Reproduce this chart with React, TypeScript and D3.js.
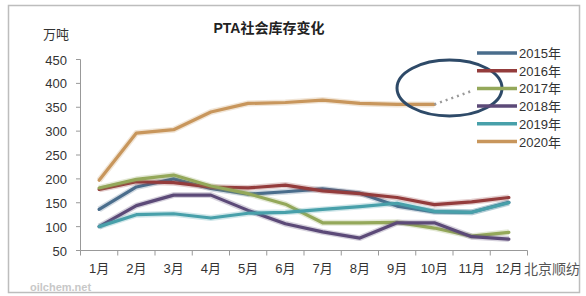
import React from "react";
import * as d3 from "d3";

const months = ["1月", "2月", "3月", "4月", "5月", "6月", "7月", "8月", "9月", "10月", "11月", "12月"];
const yTicks = [50, 100, 150, 200, 250, 300, 350, 400, 450];
const seriesNames = ["2015年", "2016年", "2017年", "2018年", "2019年", "2020年"];
const s2015 = [136, 183, 200, 180, 168, 173, 179, 170, 143, 131, 130, 151];
const s2016 = [178, 194, 192, 183, 181, 187, 175, 169, 161, 146, 152, 161];
const s2017 = [181, 199, 208, 185, 169, 147, 108, 108, 109, 97, 80, 88];
const s2018 = [100, 144, 166, 166, 134, 106, 89, 76, 108, 108, 79, 74];
const s2019 = [100, 125, 127, 118, 128, 130, 136, 142, 149, 132, 130, 150];
const s2020 = [197, 296, 303, 340, 358, 360, 365, 358, 356, 356];
const projection2020 = [356, 384];
const colors = ["#4a6d8c", "#943c3c", "#94a85a", "#5c4a78", "#48a0aa", "#c8965c"];
const allSeries = [s2015, s2016, s2017, s2018, s2019, s2020];

export default function App() {
  const W = 586, H = 296;
  const x = d3.scaleBand<string>().domain(months).range([80.5, 527.5]);
  const y = d3.scaleLinear().domain([50, 450]).range([250.5, 59.5]);
  const cx = (i: number) => (x(months[i]) as number) + x.bandwidth() / 2;
  const line = d3.line<number>().x((_, i) => cx(i)).y((d) => y(d));
  const projLine = d3.line<number>().x((_, i) => cx(i + 9)).y((d) => y(d));
  const font = "'Liberation Sans', 'Noto Sans CJK SC', sans-serif";
  const bounds = [...months.map((m) => x(m) as number), 527.5];

  return (
    <svg width={W} height={H} style={{ position: "absolute", left: 0, top: 0, background: "#fff" }} fontFamily={font}>
      <rect x={8.5} y={5.5} width={571} height={287} fill="#fff" stroke="#bdbdbd" strokeWidth={1.5} />
      <text x={269} y={33} textAnchor="middle" fontSize={14} fontWeight="bold" fill="#222">PTA社会库存变化</text>
      <text x={43} y={39} fontSize={13} fill="#333">万吨</text>
      {/* y axis */}
      <line x1={80.5} x2={80.5} y1={59.5} y2={250.5} stroke="#999" strokeWidth={1} />
      {yTicks.map((t) => (
        <g key={t}>
          <line x1={76} x2={80.5} y1={y(t)} y2={y(t)} stroke="#999" />
          <text x={67} y={y(t) + 5} textAnchor="end" fontSize={13} fill="#333">{t}</text>
        </g>
      ))}
      {/* x axis */}
      <line x1={80.5} x2={527.5} y1={250.5} y2={250.5} stroke="#999" />
      {bounds.map((b, i) => (
        <line key={i} x1={b} x2={b} y1={250.5} y2={255.5} stroke="#999" />
      ))}
      {months.map((m, i) => (
        <text key={m} x={cx(i)} y={273} textAnchor="middle" fontSize={13} fill="#333">{m}</text>
      ))}
      {/* series */}
      {allSeries.map((s, k) => (
        <g key={k}>
          <path d={line(s) as string} fill="none" stroke={colors[k]} strokeOpacity={0.25} strokeWidth={6} strokeLinejoin="round" />
          <path d={line(s) as string} fill="none" stroke={colors[k]} strokeWidth={3.2} strokeLinejoin="round" strokeLinecap="round" />
        </g>
      ))}
      <path d={projLine(projection2020) as string} fill="none" stroke="#9a9a9a" strokeWidth={2.5} strokeDasharray="2 4" />
      <ellipse cx={449.5} cy={88} rx={52.5} ry={28} fill="none" stroke="#2e4a68" strokeWidth={3} />
      {/* legend */}
      {seriesNames.map((n, i) => {
        const ly = 53 + i * 17.7;
        return (
          <g key={n}>
            <line x1={477} x2={517} y1={ly} y2={ly} stroke={colors[i]} strokeWidth={3.5} />
            <text x={519} y={ly + 5} fontSize={13} fill="#333">{n}</text>
          </g>
        );
      })}
      {/* watermark */}
      <text x={30} y={291} fontSize={11} fill="#c8c8c8" fontWeight="bold">oilchem.net</text>
      <text x={524} y={274} fontSize={14} fill="#555">北京顺纺</text>
    </svg>
  );
}
